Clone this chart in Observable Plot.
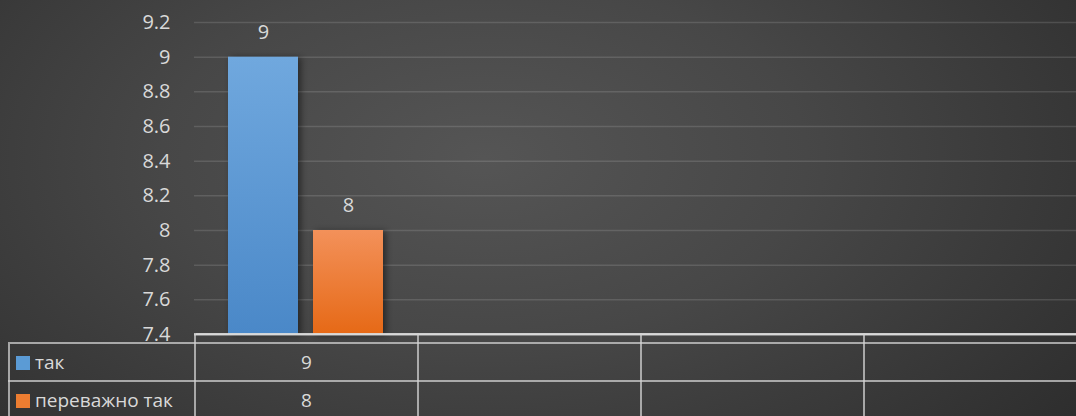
<!DOCTYPE html>
<html>
<head>
<meta charset="utf-8">
<script src="https://cdn.jsdelivr.net/npm/d3@7"></script>
<script src="https://cdn.jsdelivr.net/npm/@observablehq/plot@0.6"></script>
<style>
  html, body { margin: 0; padding: 0; }
  #wrap {
    position: relative; width: 1076px; height: 416px; overflow: hidden;
    background: radial-gradient(ellipse 75% 110% at 45% 38%, #555555 0%, #474747 40%, #2a2a2a 100%);
    font-family: "Open Sans", sans-serif; color: #d9d9d9;
  }
  #chart svg { display: block; overflow: hidden; }
  table.dt {
    position: absolute; left: 8px; top: 333px; border-collapse: collapse; table-layout: fixed;
    font-size: 19px; color: #d9d9d9;
  }
  table.dt td { padding: 0; border: 2px solid rgba(210,210,210,0.72); }
  table.dt tr.spacer td { height: 7px; border-top-color: rgba(220,220,220,0.85); }
  table.dt tr.spacer td.blank { border-top: none; border-left: none; }
  table.dt tr.row td { height: 36px; text-align: center; }
  table.dt tr.row td.lab { text-align: left; padding-left: 6px; white-space: nowrap; }
  .sw { display: inline-block; width: 14px; height: 14px; margin-right: 5px; vertical-align: -1px; }
</style>
</head>
<body>
<div id="wrap">
  <div id="chart"></div>
</div>
<script>
const categories = ["c1", "c2", "c3", "c4"];
const series = ["так", "переважно так"];
const seriesValues = [
  [9, null, null, null],
  [8, null, null, null]
];
const seriesColors = ["#5b9bd5", "#ed7d31"];
const yTicks = [7.4, 7.6, 7.8, 8, 8.2, 8.4, 8.6, 8.8, 9, 9.2];
const yTickLabels = ["7.4", "7.6", "7.8", "8", "8.2", "8.4", "8.6", "8.8", "9", "9.2"];

const labelMap = new Map(yTicks.map((t, i) => [t, yTickLabels[i]]));
const yMin = yTicks[0], yMax = yTicks[yTicks.length - 1];

const bySeries = series.map((s, j) =>
  categories.map((c, i) => ({cat: c, series: s, value: seriesValues[j][i]}))
    .filter(d => d.value != null));

const gradIds = ["gBlue", "gOrange"];
const insets = [[34, 119], [119, 34]];
const labelDx = [-42.5, 42.5];

const marks = [
  Plot.ruleY(yTicks.slice(1), {stroke: "#ffffff", strokeOpacity: 0.13, strokeWidth: 1.5}),
  Plot.axisY(yTicks, {tickSize: 0, tickPadding: 24, tickFormat: d => labelMap.get(d), fontSize: 20, fill: "#d9d9d9", label: null})
];
series.forEach((s, j) => {
  marks.push(Plot.barY(bySeries[j], {
    x: "cat", y1: yMin, y2: "value", fill: `url(#${gradIds[j]})`,
    insetLeft: insets[j][0], insetRight: insets[j][1]
  }));
  marks.push(Plot.text(bySeries[j], {
    x: "cat", y: "value", text: d => String(d.value), dy: -25, dx: labelDx[j],
    fill: "#d9d9d9", fontSize: 20
  }));
});
marks.push(Plot.ruleY([yMin], {stroke: "#d6d6d6", strokeOpacity: 0.9, strokeWidth: 2}));

const svg = Plot.plot({
  width: 1076, height: 342,
  marginLeft: 194, marginRight: -10, marginTop: 22, marginBottom: 8,
  style: {background: "transparent", color: "#d9d9d9", fontFamily: "'Open Sans', sans-serif", fontSize: "20px", overflow: "hidden"},
  x: {domain: categories, padding: 0, axis: null},
  y: {domain: [yMin, yMax], axis: null, label: null},
  marks
});

// gradients for bars
const defs = d3.select(svg).insert("defs", ":first-child");
const grads = [["#70a8de", "#4a88c8"], ["#f3915a", "#e66916"]];
gradIds.forEach((id, j) => {
  const g = defs.append("linearGradient").attr("id", id).attr("x1", 0).attr("y1", 0).attr("x2", 0).attr("y2", 1);
  g.append("stop").attr("offset", "0%").attr("stop-color", grads[j][0]);
  g.append("stop").attr("offset", "100%").attr("stop-color", grads[j][1]);
});
d3.select(svg).selectAll("g[aria-label=bar] rect").style("filter", "drop-shadow(3px 1px 3px rgba(0,0,0,0.45))");

document.getElementById("chart").appendChild(svg);

// data table
const table = document.createElement("table");
table.className = "dt";
const colW = [186, 223, 223, 223, 223];
table.style.width = d3.sum(colW) + "px";
const cg = document.createElement("colgroup");
colW.forEach(w => { const col = document.createElement("col"); col.style.width = w + "px"; cg.appendChild(col); });
table.appendChild(cg);
const sp = document.createElement("tr"); sp.className = "spacer";
colW.forEach((w, i) => { const td = document.createElement("td"); if (i === 0) td.className = "blank"; sp.appendChild(td); });
table.appendChild(sp);
series.forEach((s, j) => {
  const tr = document.createElement("tr"); tr.className = "row";
  const lab = document.createElement("td"); lab.className = "lab";
  lab.innerHTML = `<span class="sw" style="background:${seriesColors[j]}"></span>${s}`;
  tr.appendChild(lab);
  categories.forEach((c, i) => {
    const td = document.createElement("td");
    td.textContent = seriesValues[j][i] == null ? "" : String(seriesValues[j][i]);
    tr.appendChild(td);
  });
  table.appendChild(tr);
});
document.getElementById("wrap").appendChild(table);
</script>
</body>
</html>
